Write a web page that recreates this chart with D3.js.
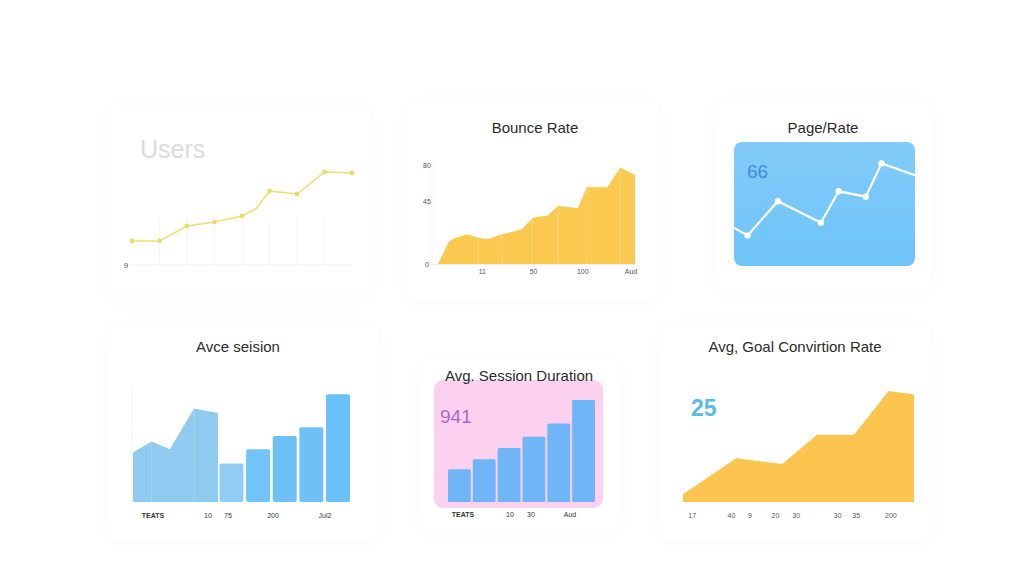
<!DOCTYPE html>
<html><head><meta charset="utf-8">
<script src="https://cdn.jsdelivr.net/npm/d3@7"></script>
<style>
html,body{margin:0;padding:0;background:#fff;}
svg{display:block;font-family:"Liberation Sans",Arial,Helvetica,sans-serif;}
</style></head>
<body><svg id="c" width="1024" height="585"></svg>
<script>
// ---------- DATA ----------
// Panel 1: Users (line)
const usersX = [0,1,2,3,4,4.5,5,6,7,8];
const usersY = [24,24,39,43,49,56,74,71,93,92];
const usersTick = ["9"];
// Panel 2: Bounce Rate (area)
const bounceX = [0,1.1,1.7,3.0,4.1,5.0,6.5,7.6,8.5,9.6,10.0,11.1,12.2,14.2,15.1,17.2,18.5,20];
const bounceY = [0,18,21,24,21,20,24,26,28,37,38,39,47,45,62,62,78,72];
const bounceYTicks = [0,45,80];
const bounceXLabels = ["11","50","100","Aud"];
const bounceXLabelPos = [4.5,9.7,14.7,19.6];
// Panel 3: Page/Rate (line in card)
const pageX = [0,1.4,4.3,8.4,10.1,12.7,14.2,17.4];
const pageY = [43,34,72,48,83,77,114,101];
const pageKpi = "66";
// Panel 4: Avce seision (area + bars)
const sessAreaX = [0,1,2,3.3,4.6];
const sessAreaY = [45,55,48,85,81];
const sessBars = [35,48,60,68,98];
const sessLabels = ["TEATS","10","75","200","Jul2"];
// Panel 5: Avg. Session Duration (bars in card)
const durBars = [32,42,53,64,77,100];
const durKpi = "941";
const durLabels = ["TEATS","10","30","Aud"];
// Panel 6: Avg, Goal Convirtion Rate (area)
const goalX = [0,23,43,58,74,89,100];
const goalY = [7,39,34,60,60,99,96];
const goalKpi = "25";
const goalLabels = ["17","40","9","20","30","30","35","200"];
const goalLabelPos = [4,21,29,40,49,67,75,90];

// ---------- DRAW ----------
const svg = d3.select("#c");
const defs = svg.append("defs");
const f = defs.append("filter").attr("id","sh").attr("x","-20%").attr("y","-20%").attr("width","140%").attr("height","140%");
f.append("feGaussianBlur").attr("in","SourceAlpha").attr("stdDeviation",10);
f.append("feOffset").attr("dy",3).attr("result","b");
f.append("feComponentTransfer").append("feFuncA").attr("type","linear").attr("slope",0.025);
const fm = f.append("feMerge"); fm.append("feMergeNode"); fm.append("feMergeNode").attr("in","SourceGraphic");

// faint background cards
[[105,105,265,190],[408,100,250,200],[716,100,215,190],[108,325,270,215],[420,360,200,170],[660,325,270,215]]
  .forEach(c=>svg.append("rect").attr("x",c[0]).attr("y",c[1]).attr("width",c[2]).attr("height",c[3]).attr("rx",12).attr("fill","#fff").attr("filter","url(#sh)"));

function title(x,y,t,size,color){
  svg.append("text").attr("x",x).attr("y",y).attr("text-anchor","middle").attr("font-size",size).attr("fill",color||"#2b2b2b").text(t);
}

// Panel 1
{
  const x = d3.scaleLinear().domain([0,8]).range([132,352]);
  const y = d3.scaleLinear().domain([0,100]).range([265,165]);
  const g = svg.append("g");
  g.selectAll("line.grid").data(d3.range(1,8)).join("line").attr("x1",d=>x(d)).attr("x2",d=>x(d))
    .attr("y1",y(0)).attr("y2",y(48)).attr("stroke","#f5f5f5").attr("stroke-width",1);
  g.append("line").attr("x1",x(0)).attr("x2",x(8)).attr("y1",y(0)).attr("y2",y(0)).attr("stroke","#efefef");
  g.append("text").attr("x",126).attr("y",y(0)+3).attr("font-size",8).attr("fill","#555").attr("text-anchor","middle").text(usersTick[0]);
  const pts = usersX.map((d,i)=>[d,usersY[i]]);
  g.append("path").attr("d",d3.line().x(d=>x(d[0])).y(d=>y(d[1]))(pts)).attr("fill","none").attr("stroke","#ecdf72").attr("stroke-width",1.6);
  g.selectAll("circle").data(pts.filter(d=>d[0]!==4.5)).join("circle").attr("cx",d=>x(d[0])).attr("cy",d=>y(d[1])).attr("r",2.4).attr("fill","#e9dc6c");
  svg.append("text").attr("x",140).attr("y",158).attr("font-size",25).attr("fill","#dcdcdc").text("Users");
}

// Panel 2
{
  title(535,133,"Bounce Rate",15);
  const x = d3.scaleLinear().domain([0,20]).range([438,635]);
  const y = d3.scaleLinear().domain([0,80]).range([264,165]);
  const pts = bounceX.map((d,i)=>[d,bounceY[i]]);
  svg.append("path").attr("d",d3.area().x(d=>x(d[0])).y0(y(0)).y1(d=>y(d[1]))(pts)).attr("fill","#fbc850");
  svg.selectAll("line.sep2").data([4.1,6.5,9.6,12.2,15.1,18.5]).join("line")
    .attr("x1",d=>x(d)).attr("x2",d=>x(d)).attr("y1",y(0)).attr("y2",d=>y(d3.max(pts.filter(p=>Math.abs(p[0]-d)<0.01),p=>p[1])||0)+2)
    .attr("stroke","#fdd57a").attr("stroke-width",1);
  svg.append("line").attr("x1",432).attr("x2",432).attr("y1",160).attr("y2",264).attr("stroke","#f5f5f5");
  svg.append("line").attr("x1",432).attr("x2",638).attr("y1",264.5).attr("y2",264.5).attr("stroke","#f0f0f0");
  svg.selectAll("text.yt2").data(bounceYTicks).join("text").attr("x",427).attr("y",d=>y(d)+(d===45?-4:3)).attr("text-anchor","middle")
    .attr("font-size",7).attr("fill","#555").text(d=>d);
  svg.selectAll("text.xt2").data(bounceXLabels).join("text").attr("x",(d,i)=>x(bounceXLabelPos[i])).attr("y",274).attr("text-anchor","middle")
    .attr("font-size",7).attr("fill","#555").text(d=>d);
}

// Panel 3
{
  title(823,133,"Page/Rate",15);
  const cx=734, cy=142, cw=181, ch=124;
  const gr = defs.append("linearGradient").attr("id","pg").attr("x1",0).attr("x2",0).attr("y1",0).attr("y2",1);
  gr.append("stop").attr("offset","0").attr("stop-color","#82cbf8");
  gr.append("stop").attr("offset","1").attr("stop-color","#6ec4fa");
  defs.append("clipPath").attr("id","pc").append("rect").attr("x",cx).attr("y",cy).attr("width",cw).attr("height",ch).attr("rx",8);
  svg.append("rect").attr("x",cx).attr("y",cy).attr("width",cw).attr("height",ch).attr("rx",8).attr("fill","url(#pg)");
  const x = d3.scaleLinear().domain([0,17.4]).range([cx-1,cx+cw]);
  const y = d3.scaleLinear().domain([0,120]).range([266,158]);
  const pts = pageX.map((d,i)=>[d,pageY[i]]);
  const g = svg.append("g").attr("clip-path","url(#pc)");
  g.append("path").attr("d",d3.line().x(d=>x(d[0])).y(d=>y(d[1]))(pts)).attr("fill","none").attr("stroke","#fff").attr("stroke-width",2.2);
  g.selectAll("circle").data(pts.slice(1,-1)).join("circle").attr("cx",d=>x(d[0])).attr("cy",d=>y(d[1])).attr("r",3.2).attr("fill","#fff");
  svg.append("text").attr("x",747).attr("y",178).attr("font-size",19).attr("fill","#3f8fe0").text(pageKpi);
}

// Panel 4
{
  title(238,352,"Avce seision",15);
  const y = d3.scaleLinear().domain([0,100]).range([502,392]);
  const xa = d3.scaleLinear().domain([0,4.6]).range([133,218]);
  const pts = sessAreaX.map((d,i)=>[d,sessAreaY[i]]);
  svg.append("line").attr("x1",132).attr("x2",132).attr("y1",385).attr("y2",502).attr("stroke","#f3f3f3");
  svg.append("path").attr("d",d3.area().x(d=>xa(d[0])).y0(y(0)).y1(d=>y(d[1]))(pts)).attr("fill","#8fcaf0");
  svg.selectAll("line.s4").data([1,3.3]).join("line").attr("x1",d=>xa(d)).attr("x2",d=>xa(d)).attr("y1",y(0)).attr("y2",(d,i)=>y(pts.find(p=>p[0]===d)[1])+2)
    .attr("stroke","#a4d4f3").attr("stroke-width",1);
  const xb = d3.scaleBand().domain(d3.range(sessBars.length)).range([219.5,350]).paddingInner(0.1);
  const cols = ["#90ccf3","#72c3f6","#6ec1f7","#6dc1f7","#6ac0f8"];
  svg.selectAll("rect.b4").data(sessBars).join("rect").attr("x",(d,i)=>xb(i)).attr("width",xb.bandwidth())
    .attr("y",d=>y(d)).attr("height",d=>y(0)-y(d)).attr("rx",2).attr("fill",(d,i)=>cols[i]);
  const lx = [153,208,228,273,325];
  svg.selectAll("text.l4").data(sessLabels).join("text").attr("x",(d,i)=>lx[i]).attr("y",518).attr("text-anchor","middle")
    .attr("font-size",7).attr("font-weight",(d,i)=>i===0?"bold":"normal").attr("fill","#333").text(d=>d);
}

// Panel 5
{
  svg.append("rect").attr("x",434).attr("y",380).attr("width",169).attr("height",128).attr("rx",9).attr("fill","#fcd0ef");
  title(519,381,"Avg. Session Duration",15);
  const y = d3.scaleLinear().domain([0,100]).range([502,400]);
  const xb = d3.scaleBand().domain(d3.range(durBars.length)).range([448,595]).paddingInner(0.08);
  svg.selectAll("rect.b5").data(durBars).join("rect").attr("x",(d,i)=>xb(i)).attr("width",xb.bandwidth())
    .attr("y",d=>y(d)).attr("height",d=>y(0)-y(d)).attr("rx",1.5).attr("fill","#70b5f6");
  svg.append("text").attr("x",440).attr("y",423).attr("font-size",19).attr("fill","#a66ad3").text(durKpi);
  const lx = [463,510,531,570];
  svg.selectAll("text.l5").data(durLabels).join("text").attr("x",(d,i)=>lx[i]).attr("y",517).attr("text-anchor","middle")
    .attr("font-size",7).attr("font-weight",(d,i)=>i===0?"bold":"normal").attr("fill","#333").text(d=>d);
}

// Panel 6
{
  title(795,352,"Avg, Goal Convirtion Rate",15);
  const x = d3.scaleLinear().domain([0,100]).range([683,914]);
  const y = d3.scaleLinear().domain([0,100]).range([502,390]);
  const pts = goalX.map((d,i)=>[d,goalY[i]]);
  svg.append("path").attr("d",d3.area().x(d=>x(d[0])).y0(y(0)).y1(d=>y(d[1]))(pts)).attr("fill","#fbc550");
  svg.append("text").attr("x",691).attr("y",416).attr("font-size",23).attr("font-weight","bold").attr("fill","#58bde6").text(goalKpi);
  svg.selectAll("text.l6").data(goalLabels).join("text").attr("x",(d,i)=>x(goalLabelPos[i])).attr("y",518).attr("text-anchor","middle")
    .attr("font-size",7).attr("fill","#555").text(d=>d);
}
</script></body></html>
